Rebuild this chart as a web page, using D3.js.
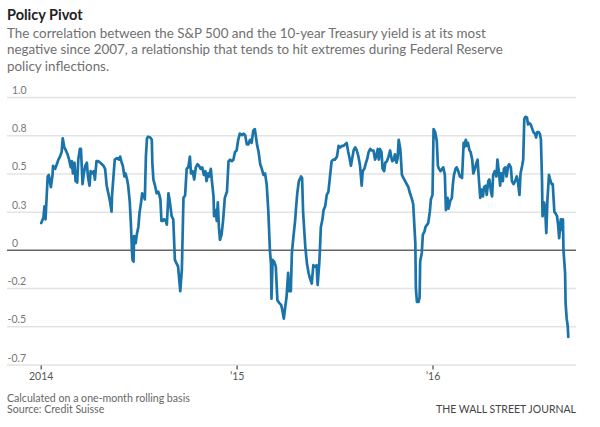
<!DOCTYPE html>
<html>
<head>
<meta charset="utf-8">
<script src="https://cdn.jsdelivr.net/npm/d3@7"></script>
<style>
	body { margin: 0; background: #fff; }
	text { font-family: Lato, "Open Sans", sans-serif; }
</style>
</head>
<body>
<div id="chart"></div>
<script>
/* global d3 */

// ---- data ----

var title = "Policy Pivot";

var subtitleLines = [
	"The correlation between the S&P 500 and the 10-year Treasury yield is at its most",
	"negative since 2007, a relationship that tends to hit extremes during Federal Reserve",
	"policy inflections."
];

var footnotes = [
	"Calculated on a one-month rolling basis",
	"Source: Credit Suisse"
];

var credit = "THE WALL STREET JOURNAL";

var yTicks = [-0.75, -0.5, -0.25, 0, 0.25, 0.5, 0.75, 1.0];
var yTickLabels = ["-0.7", "-0.5", "-0.2", "0", "0.3", "0.5", "0.8", "1.0"];

var xTicks = ["2014-01-01", "2015-01-01", "2016-01-01"];
var xTickLabels = ["2014", "\u201915", "\u201916"];

// S&P 500 vs 10-yr Treasury yield, one-month rolling correlation
var correlation = [
	["2014-01-02",0.175],["2014-01-06",0.21],["2014-01-08",0.285],["2014-01-10",0.20],
	["2014-01-14",0.48],["2014-01-16",0.49],["2014-01-20",0.41],["2014-01-23",0.49],
	["2014-01-24",0.55],["2014-01-28",0.53],["2014-01-31",0.56],["2014-02-03",0.59],
	["2014-02-06",0.61],["2014-02-09",0.64],["2014-02-11",0.73],["2014-02-14",0.67],
	["2014-02-17",0.65],["2014-02-20",0.625],["2014-02-23",0.59],["2014-02-26",0.54],
	["2014-02-28",0.58],["2014-03-02",0.50],["2014-03-05",0.57],["2014-03-07",0.45],
	["2014-03-10",0.44],["2014-03-12",0.59],["2014-03-15",0.66],["2014-03-17",0.66],
	["2014-03-20",0.43],["2014-03-22",0.49],["2014-03-25",0.55],["2014-03-28",0.57],
	["2014-03-30",0.48],["2014-04-02",0.42],["2014-04-04",0.515],["2014-04-07",0.50],
	["2014-04-10",0.515],["2014-04-12",0.46],["2014-04-15",0.58],["2014-04-18",0.58],
	["2014-04-22",0.57],["2014-04-25",0.56],["2014-04-28",0.55],["2014-05-01",0.53],
	["2014-05-04",0.42],["2014-05-07",0.37],["2014-05-10",0.32],["2014-05-13",0.25],
	["2014-05-14",0.36],["2014-05-17",0.50],["2014-05-19",0.59],["2014-05-23",0.60],
	["2014-05-27",0.59],["2014-05-29",0.61],["2014-06-01",0.57],["2014-06-03",0.55],
	["2014-06-06",0.48],["2014-06-08",0.50],["2014-06-11",0.46],["2014-06-13",0.42],
	["2014-06-16",0.31],["2014-06-18",0.175],["2014-06-20",0.0],["2014-06-21",-0.065],
	["2014-06-23",-0.077],["2014-06-24",0.09],["2014-06-27",0.044],["2014-06-29",0.10],
	["2014-07-02",0.15],["2014-07-04",0.24],["2014-07-07",0.31],["2014-07-09",0.37],
	["2014-07-12",0.35],["2014-07-14",0.33],["2014-07-16",0.61],["2014-07-18",0.73],
	["2014-07-20",0.74],["2014-07-24",0.735],["2014-07-27",0.72],["2014-07-28",0.57],
	["2014-07-30",0.46],["2014-08-02",0.42],["2014-08-05",0.37],["2014-08-08",0.38],
	["2014-08-10",0.36],["2014-08-12",0.33],["2014-08-14",0.19],["2014-08-17",0.19],
	["2014-08-19",0.20],["2014-08-22",0.19],["2014-08-24",0.165],["2014-08-27",0.37],
	["2014-08-29",0.33],["2014-09-02",0.22],["2014-09-05",0.20],["2014-09-08",-0.066],
	["2014-09-11",-0.088],["2014-09-14",-0.11],["2014-09-18",-0.27],["2014-09-21",-0.13],
	["2014-09-24",0.34],["2014-09-27",0.355],["2014-09-30",0.53],["2014-10-03",0.54],
	["2014-10-06",0.61],["2014-10-08",0.50],["2014-10-11",0.515],["2014-10-14",0.46],
	["2014-10-17",0.54],["2014-10-20",0.56],["2014-10-23",0.55],["2014-10-26",0.53],
	["2014-10-29",0.54],["2014-11-01",0.49],["2014-11-04",0.515],["2014-11-06",0.45],
	["2014-11-09",0.50],["2014-11-11",0.48],["2014-11-14",0.53],["2014-11-16",0.45],
	["2014-11-19",0.35],["2014-11-20",0.22],["2014-11-23",0.26],["2014-11-25",0.19],
	["2014-11-27",0.31],["2014-11-29",0.15],["2014-12-01",0.066],["2014-12-04",0.10],
	["2014-12-07",0.20],["2014-12-10",0.34],["2014-12-14",0.38],["2014-12-17",0.58],
	["2014-12-20",0.59],["2014-12-23",0.58],["2014-12-26",0.59],["2014-12-29",0.64],
	["2015-01-01",0.65],["2015-01-04",0.72],["2015-01-07",0.76],["2015-01-11",0.75],
	["2015-01-14",0.76],["2015-01-17",0.75],["2015-01-20",0.69],["2015-01-23",0.69],
	["2015-01-26",0.72],["2015-01-29",0.70],["2015-02-01",0.78],["2015-02-04",0.79],
	["2015-02-08",0.69],["2015-02-11",0.64],["2015-02-14",0.56],["2015-02-17",0.53],
	["2015-02-20",0.49],["2015-02-23",0.50],["2015-02-26",0.43],["2015-03-01",0.26],
	["2015-03-04",0.0],["2015-03-06",-0.088],["2015-03-07",-0.32],["2015-03-09",-0.066],
	["2015-03-12",-0.077],["2015-03-15",-0.11],["2015-03-18",-0.33],["2015-03-22",-0.35],
	["2015-03-25",-0.36],["2015-03-27",-0.39],["2015-03-30",-0.45],["2015-04-01",-0.39],
	["2015-04-04",-0.31],["2015-04-07",-0.15],["2015-04-09",-0.27],["2015-04-12",-0.27],
	["2015-04-14",-0.02],["2015-04-17",0.09],["2015-04-20",0.19],["2015-04-22",0.285],
	["2015-04-24",0.37],["2015-04-27",0.45],["2015-05-01",0.48],["2015-05-03",0.47],
	["2015-05-05",0.24],["2015-05-09",0.02],["2015-05-12",-0.088],["2015-05-15",-0.15],
	["2015-05-18",-0.19],["2015-05-21",-0.22],["2015-05-24",-0.10],["2015-05-27",-0.11],
	["2015-05-30",-0.10],["2015-06-01",-0.23],["2015-06-04",-0.088],["2015-06-05",-0.02],
	["2015-06-07",0.15],["2015-06-10",0.20],["2015-06-12",0.26],["2015-06-15",0.285],
	["2015-06-18",0.36],["2015-06-21",0.38],["2015-06-24",0.48],["2015-06-27",0.58],
	["2015-06-30",0.59],["2015-07-03",0.59],["2015-07-07",0.61],["2015-07-10",0.68],
	["2015-07-13",0.67],["2015-07-16",0.68],["2015-07-19",0.68],["2015-07-22",0.69],
	["2015-07-25",0.70],["2015-07-28",0.64],["2015-07-31",0.59],["2015-08-02",0.55],
	["2015-08-05",0.61],["2015-08-07",0.65],["2015-08-10",0.67],["2015-08-13",0.65],
	["2015-08-16",0.61],["2015-08-19",0.55],["2015-08-22",0.42],["2015-08-24",0.515],
	["2015-08-27",0.53],["2015-08-30",0.57],["2015-09-01",0.59],["2015-09-04",0.64],
	["2015-09-07",0.66],["2015-09-10",0.65],["2015-09-13",0.65],["2015-09-16",0.59],
	["2015-09-18",0.61],["2015-09-21",0.66],["2015-09-23",0.59],["2015-09-25",0.66],
	["2015-09-28",0.64],["2015-09-30",0.53],["2015-10-03",0.515],["2015-10-05",0.57],
	["2015-10-08",0.58],["2015-10-11",0.61],["2015-10-14",0.65],["2015-10-16",0.61],
	["2015-10-18",0.58],["2015-10-21",0.59],["2015-10-23",0.625],["2015-10-26",0.57],
	["2015-10-28",0.60],["2015-10-30",0.72],["2015-11-02",0.66],["2015-11-05",0.49],
	["2015-11-08",0.47],["2015-11-11",0.45],["2015-11-14",0.43],["2015-11-17",0.41],
	["2015-11-20",0.37],["2015-11-23",0.34],["2015-11-26",0.30],["2015-11-30",0.044],
	["2015-12-01",-0.25],["2015-12-03",-0.34],["2015-12-06",-0.34],["2015-12-08",-0.31],
	["2015-12-09",-0.077],["2015-12-12",-0.02],["2015-12-14",0.10],["2015-12-17",0.12],
	["2015-12-19",0.15],["2015-12-22",0.165],["2015-12-24",0.175],["2015-12-27",0.25],
	["2015-12-29",0.33],["2016-01-01",0.36],["2016-01-03",0.79],["2016-01-06",0.77],
	["2016-01-09",0.71],["2016-01-11",0.55],["2016-01-13",0.53],["2016-01-16",0.515],
	["2016-01-21",0.54],["2016-01-24",0.49],["2016-01-26",0.26],["2016-01-29",0.34],
	["2016-01-31",0.27],["2016-02-03",0.32],["2016-02-06",0.34],["2016-02-08",0.43],
	["2016-02-10",0.49],["2016-02-13",0.53],["2016-02-15",0.54],["2016-02-18",0.515],
	["2016-02-21",0.48],["2016-02-25",0.47],["2016-02-28",0.70],["2016-02-29",0.67],
	["2016-03-03",0.72],["2016-03-05",0.68],["2016-03-07",0.70],["2016-03-10",0.65],
	["2016-03-12",0.64],["2016-03-15",0.59],["2016-03-17",0.50],["2016-03-20",0.53],
	["2016-03-22",0.56],["2016-03-25",0.59],["2016-03-27",0.48],["2016-03-30",0.34],
	["2016-04-01",0.395],["2016-04-04",0.35],["2016-04-06",0.41],["2016-04-09",0.42],
	["2016-04-11",0.36],["2016-04-14",0.45],["2016-04-16",0.46],["2016-04-19",0.38],
	["2016-04-21",0.35],["2016-04-23",0.49],["2016-04-26",0.515],["2016-04-29",0.48],
	["2016-05-01",0.59],["2016-05-04",0.50],["2016-05-06",0.42],["2016-05-08",0.50],
	["2016-05-11",0.45],["2016-05-13",0.53],["2016-05-16",0.54],["2016-05-18",0.48],
	["2016-05-21",0.55],["2016-05-23",0.56],["2016-05-26",0.54],["2016-05-28",0.45],
	["2016-05-31",0.43],["2016-06-03",0.45],["2016-06-06",0.48],["2016-06-08",0.45],
	["2016-06-11",0.36],["2016-06-13",0.50],["2016-06-16",0.55],["2016-06-18",0.59],
	["2016-06-20",0.855],["2016-06-22",0.87],["2016-06-25",0.866],["2016-06-27",0.82],
	["2016-06-29",0.83],["2016-07-02",0.82],["2016-07-05",0.79],["2016-07-07",0.77],
	["2016-07-10",0.76],["2016-07-12",0.735],["2016-07-14",0.77],["2016-07-17",0.77],
	["2016-07-19",0.76],["2016-07-21",0.72],["2016-07-23",0.46],["2016-07-24",0.22],
	["2016-07-27",0.31],["2016-07-29",0.26],["2016-07-31",0.11],["2016-08-02",0.32],
	["2016-08-05",0.49],["2016-08-07",0.46],["2016-08-10",0.43],["2016-08-12",0.43],
	["2016-08-15",0.25],["2016-08-17",0.24],["2016-08-20",0.22],["2016-08-22",0.165],
	["2016-08-24",0.077],["2016-08-27",0.20],["2016-08-29",0.13],["2016-08-31",0.20],
	["2016-09-01",0.0],["2016-09-04",-0.15],["2016-09-05",-0.35],["2016-09-07",-0.45],
	["2016-09-09",-0.50],["2016-09-10",-0.57]
];


// ---- layout ----

var WIDTH = 600;
var HEIGHT = 427;

var GRID_LEFT = 7;
var GRID_RIGHT = 576;

var parseDate = d3.utcParse("%Y-%m-%d");

var series = correlation.map(function(d){
	return { date: parseDate(d[0]), value: d[1] };
});

var x = d3.scaleUtc()
	.domain([ parseDate("2014-01-01"), parseDate("2016-09-10") ])
	.range([ 40.7, 568.3 ]);

var y = d3.scaleLinear()
	.domain([ -0.75, 1.0 ])
	.range([ 364.5, 97 ]);

var svg = d3.select("#chart")
  .append("svg")
	.attr("width", WIDTH)
	.attr("height", HEIGHT)
	.style("display", "block");

svg.append("rect")
	.attr("width", WIDTH)
	.attr("height", HEIGHT)
	.attr("fill", "#fff");


//* TITLE + SUBTITLE
svg.append("text")
	.attr("x", 7)
	.attr("y", 19.5)
	.attr("font-size", 14.5)
	.attr("font-weight", 700)
	.style("fill", "#222")
	.text(title);

svg.append("g")
	.selectAll("text")
	.data(subtitleLines)
	.join("text")
	.attr("x", 7)
	.attr("y", function(d, i){ return 38 + i * 16.3; })
	.attr("font-size", 13.4)
	.style("fill", "#707070")
	.text(function(d){ return d; });


//* Y GRID + LABELS
var yAxis = svg.append("g")
	.attr("transform", "translate(" + GRID_LEFT + ",0)")
	.call(
		d3.axisRight(y)
			.tickValues(yTicks)
			.tickSize(GRID_RIGHT - GRID_LEFT)
			.tickFormat(function(d, i){ return yTickLabels[i]; })
	);

yAxis.select(".domain").remove();

yAxis.selectAll(".tick line")
	.attr("stroke", function(d){ return d === 0 ? "#666" : "#e3e3e3"; })
	.attr("stroke-width", 1.5);

// labels sit just above their line; minus signs hang out to the left
yAxis.selectAll(".tick text")
	.attr("x", function(d){ return d < 0 ? 0.5 : 5; })
	.attr("y", -3.5)
	.attr("dy", 0)
	.attr("text-anchor", "start")
	.attr("font-size", 10.5)
	.style("font-family", "Lato, sans-serif")
	.style("fill", "#777");


//* X AXIS
var xAxis = svg.append("g")
	.attr("transform", "translate(0," + y(-0.75) + ")")
	.call(
		d3.axisBottom(x)
			.tickValues(xTicks.map(parseDate))
			.tickSize(5)
			.tickFormat(function(d, i){ return xTickLabels[i]; })
	);

xAxis.select(".domain").remove();

xAxis.selectAll(".tick line")
	.attr("stroke", "#444")
	.attr("stroke-width", 1.2)
	.attr("y1", 1);

xAxis.selectAll(".tick text")
	.attr("y", 8)
	.attr("font-size", 10.5)
	.style("font-family", "Lato, sans-serif")
	.style("fill", "#555");


//* LINE
var line = d3.line()
	.x(function(d){ return x(d.date); })
	.y(function(d){ return y(d.value); });

svg.append("path")
	.datum(series)
	.attr("fill", "none")
	.attr("stroke", "#1b74a9")
	.attr("stroke-width", 2.7)
	.attr("stroke-linejoin", "round")
	.attr("stroke-linecap", "round")
	.attr("d", line);


//* FOOTER
svg.append("g")
	.selectAll("text")
	.data(footnotes)
	.join("text")
	.attr("x", 7)
	.attr("y", function(d, i){ return 401.5 + i * 11.5; })
	.attr("font-size", 10.6)
	.style("fill", "#666")
	.text(function(d){ return d; });

svg.append("text")
	.attr("x", GRID_RIGHT)
	.attr("y", 413)
	.attr("text-anchor", "end")
	.attr("font-size", 10.5)
	.style("fill", "#444")
	.text(credit);
</script>
</body>
</html>
